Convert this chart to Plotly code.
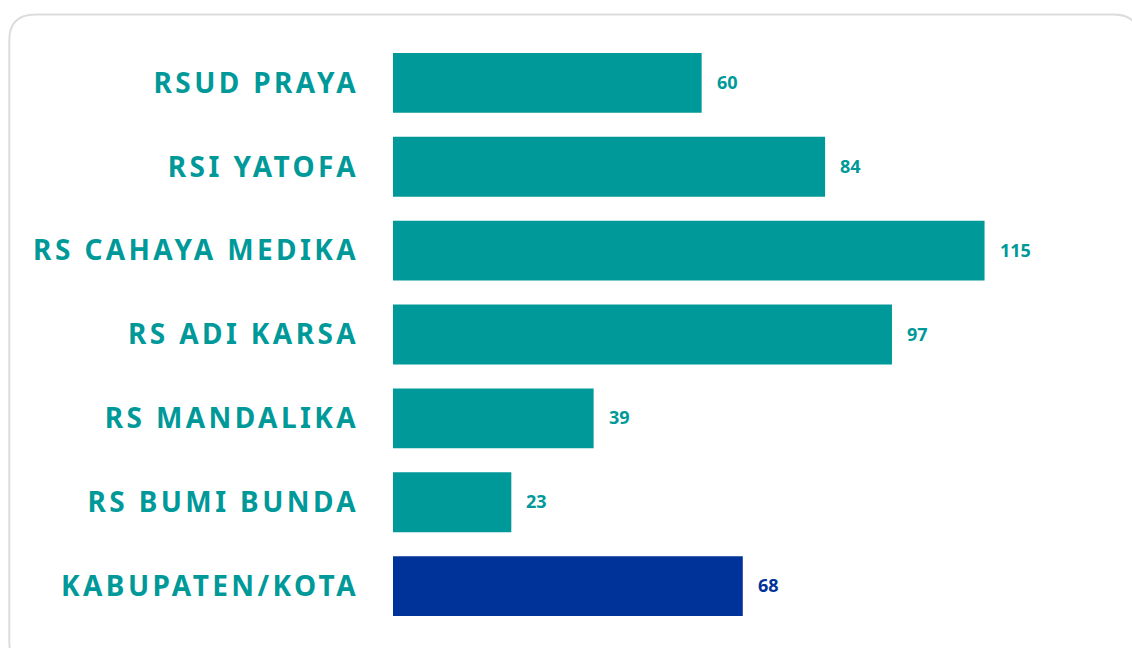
import plotly.graph_objects as go

categories = ["RSUD PRAYA", "RSI YATOFA", "RS CAHAYA MEDIKA", "RS ADI KARSA",
              "RS MANDALIKA", "RS BUMI BUNDA", "KABUPATEN/KOTA"]
values = [60, 84, 115, 97, 39, 23, 68]
bar_colors = ["#009999"] * 6 + ["#003399"]

W, H = 1132, 648
L, R, T, B = 393, 95.5, 40.5, 19.5
pw, ph = W - L - R, H - T - B

fig = go.Figure()
fig.add_trace(go.Bar(
    y=categories, x=values, orientation="h",
    marker=dict(color=bar_colors, line=dict(width=0)),
    hoverinfo="x+y",
))

for c, v, col in zip(categories, values, bar_colors):
    fig.add_annotation(x=v, y=c, text=str(v), showarrow=False, xanchor="left",
                       xshift=13, yshift=1,
                       font=dict(family="Noto Sans", size=18, color=col, weight="bold"))

# rounded card border (pixel -> paper coords)
def px(xp):
    return (xp - L) / pw
def py(yp):
    return (H - B - yp) / ph
x0, x1, y0, y1, r = 9, 1140, 14, 668, 26
path = (f"M {px(x0 + r)} {py(y0)} L {px(x1 - r)} {py(y0)} "
        f"Q {px(x1)} {py(y0)} {px(x1)} {py(y0 + r)} "
        f"L {px(x1)} {py(y1 - r)} Q {px(x1)} {py(y1)} {px(x1 - r)} {py(y1)} "
        f"L {px(x0 + r)} {py(y1)} Q {px(x0)} {py(y1)} {px(x0)} {py(y1 - r)} "
        f"L {px(x0)} {py(y0 + r)} Q {px(x0)} {py(y0)} {px(x0 + r)} {py(y0)} Z")
fig.add_shape(type="path", path=path, xref="paper", yref="paper",
              line=dict(color="#dcdcdc", width=2), layer="below")

fig.update_layout(
    width=W, height=H,
    margin=dict(l=L, r=R, t=T, b=B, pad=0),
    paper_bgcolor="white", plot_bgcolor="white",
    bargap=0.286, showlegend=False,
    xaxis=dict(range=[0, 125], visible=False, fixedrange=True),
    yaxis=dict(autorange="reversed", showgrid=False, showline=False, ticks="",
               ticklabelstandoff=33, fixedrange=True,
               tickfont=dict(family="Noto Sans", size=28, color="#009999", weight="bold")),
)

post = """
document.body.style.margin='0'; document.body.style.overflow='hidden';
function ls(){document.querySelectorAll('.ytick text').forEach(function(t){t.setAttribute('letter-spacing','3.4px');});}
ls(); setTimeout(ls, 50); setTimeout(ls, 300);
var gd=document.getElementById('{plot_id}'); if(gd&&gd.on){gd.on('plotly_afterplot', ls);}
"""
fig.write_html("out.html", post_script=post, config={"displayModeBar": False})
